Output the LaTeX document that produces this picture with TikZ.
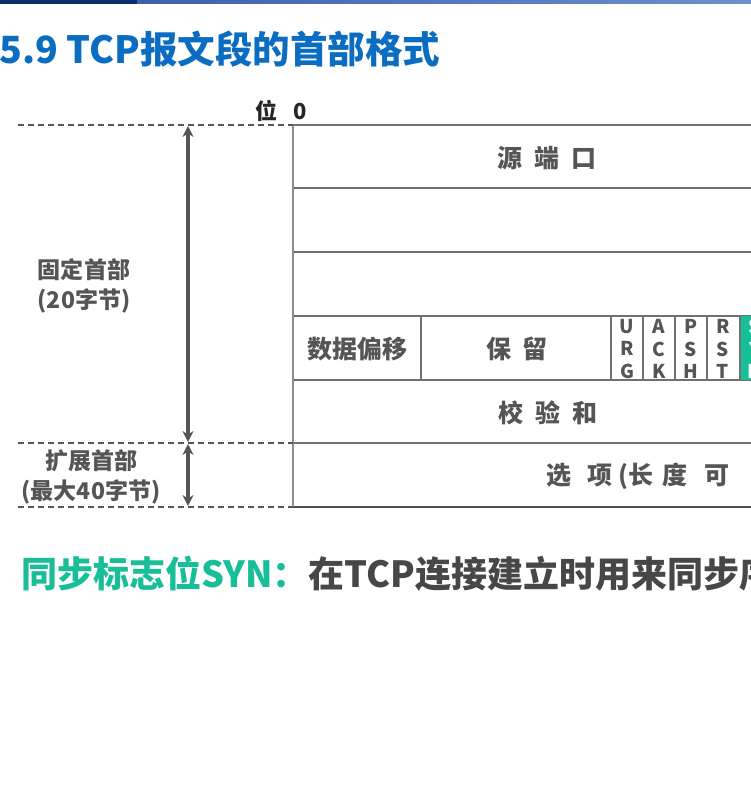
\documentclass[tikz,border=0pt]{standalone}
\usepackage{fontspec}
\setmainfont{Noto Sans CJK SC}
\usetikzlibrary{arrows.meta}
\definecolor{titleblue}{HTML}{0B6DC2}
\definecolor{barnavy}{HTML}{0C2C6C}
\definecolor{barblue}{HTML}{4A72C2}
\definecolor{inkgray}{HTML}{555555}
\definecolor{rulegray}{HTML}{707070}
\definecolor{syngreen}{HTML}{17BE97}
\tikzset{
  cell/.style={draw=none, inner sep=0pt, font=\bfseries\fontsize{25}{27}\selectfont, text=inkgray},
  flag/.style={inner sep=0pt, align=center, font=\bfseries\fontsize{19}{22.5}\selectfont, text=inkgray},
  side/.style={inner sep=0pt, align=center, font=\bfseries\fontsize{23}{30}\selectfont, text=inkgray},
  rowline/.style={draw=rulegray, line width=1.2pt},
  guide/.style={draw=inkgray, line width=1.4pt, dash pattern=on 6pt off 4pt},
  span/.style={draw=inkgray, line width=4pt, {Stealth[length=11pt,width=11pt]}-{Stealth[length=11pt,width=11pt]}}
}
\begin{document}
\begin{tikzpicture}[x=1pt, y=-1pt]
\useasboundingbox (0,0) rectangle (751,795);
\clip (0,0) rectangle (751,795);
\fill[white] (0,0) rectangle (751,795);

% slide header bar
\fill[barnavy] (0,0) rectangle (137,3.5);
\shade[left color=barblue!85!black, right color=barblue!80!white] (137,0) rectangle (751,3.5);

% title
\node[anchor=base west, inner sep=0pt, text=titleblue, font=\bfseries\fontsize{37.5}{42}\selectfont] (title) at (-1,63) {5.9 TCP报文段的首部格式};

% bit position label
\node[anchor=base west, inner sep=0pt, text=black!85, font=\bfseries\fontsize{22}{24}\selectfont] (bitpos) at (255,119) {位\hspace{16pt}0};

% header rows
\coordinate (tl) at (293,125);
\draw[rowline] (293,125) -- (760,125);
\draw[rowline] (293,188) -- (760,188);
\draw[rowline] (293,252) -- (760,252);
\draw[rowline] (293,316) -- (760,316);
\draw[rowline] (293,380) -- (760,380);
\draw[rowline] (293,443) -- (760,443);
\draw[draw=black!70, line width=1.8pt] (293,507) -- (760,507);
\draw[draw=rulegray!80, line width=1.2pt] (293,125) -- (293,507);

% fourth row: offset, reserved and flag cells
\fill[syngreen] (740,316) rectangle (772,380);
\foreach \x in {421,611,643,675,707,740}
  \draw[rowline] (\x,316) -- (\x,380);

\node[cell] (srcport) at (547,158) {源\hspace{12pt}端\hspace{12pt}口};
\node[cell] (offset) at (357,349) {数据偏移};
\node[cell] (reserved) at (517,349) {保\hspace{11pt}留};
\node[flag] (urg) at (627,349) {U\\R\\G};
\node[flag] (ack) at (659,349) {A\\C\\K};
\node[flag] (psh) at (691,349) {P\\S\\H};
\node[flag] (rst) at (723,349) {R\\S\\T};
\node[flag, text=white] (syn) at (755,349) {S\\Y\\N};
\node[cell] (checksum) at (548,413) {校\hspace{12pt}验\hspace{12pt}和};
\node[cell, anchor=west] (options) at (546,476) {选\hspace{16pt}项\hspace{6pt}(长\hspace{9pt}度\hspace{17pt}可};

% extent guides on the left
\coordinate (g1) at (18,125);
\coordinate (g2) at (18,443);
\coordinate (g3) at (18,507);
\draw[guide] (g1) -- (tl);
\draw[guide] (g2) -- (293,443);
\draw[guide] (g3) -- (293,507);

\coordinate (a1) at (188,126);
\coordinate (a2) at (188,442);
\coordinate (a3) at (188,444);
\coordinate (a4) at (188,506);
\draw[span] (a1) -- (a2);
\draw[span] (a3) -- (a4);

\node[side] (fixed) at (84,286) {固定首部\\(20字节)};
\node[side] (ext) at (91,477) {扩展首部\\(最大40字节)};

% explanation line
\node[anchor=base west, inner sep=0pt, font=\bfseries\fontsize{36}{40}\selectfont] (note) at (21,587)
  {\textcolor{syngreen}{同步标志位SYN：}\textcolor{black!72}{在TCP连接建立时用来同步序}};
\end{tikzpicture}
\end{document}
